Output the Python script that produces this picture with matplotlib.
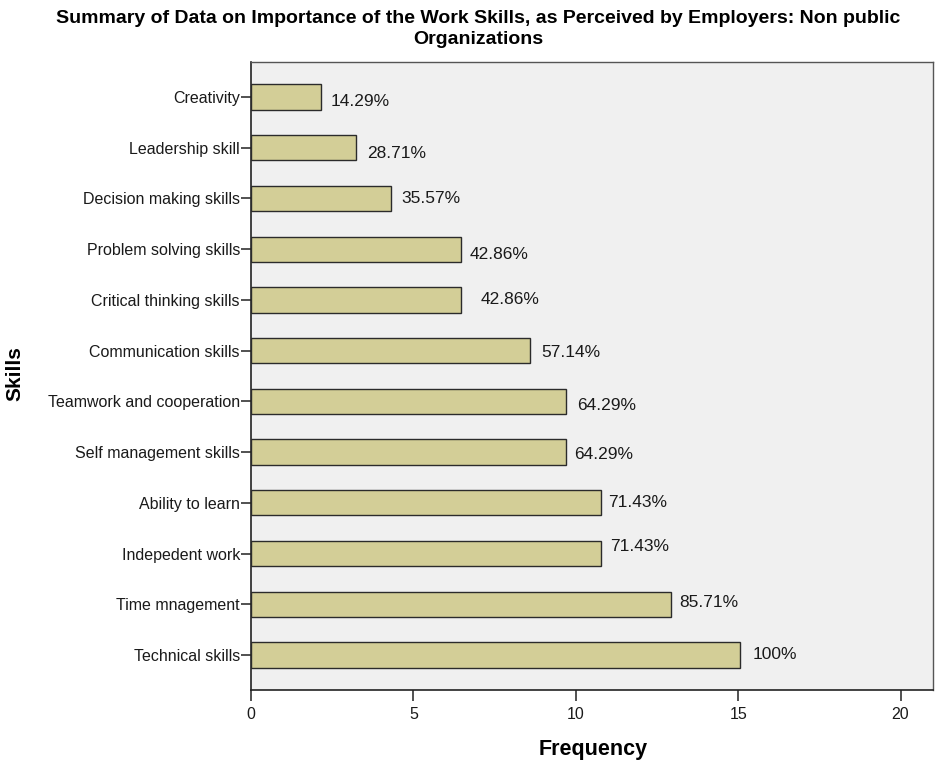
import matplotlib
matplotlib.use("Agg")
import matplotlib.pyplot as plt

skills = ["Creativity", "Leadership skill", "Decision making skills", "Problem solving skills",
          "Critical thinking skills", "Communication skills", "Teamwork and cooperation",
          "Self management skills", "Ability to learn", "Indepedent work", "Time mnagement",
          "Technical skills"]
frequency = [2.15, 3.23, 4.32, 6.46, 6.46, 8.6, 9.69, 9.69, 10.77, 10.77, 12.92, 15.05]
pct_labels = ["14.29%", "28.71%", "35.57%", "42.86%", "42.86%", "57.14%", "64.29%",
              "64.29%", "71.43%", "71.43%", "85.71%", "100%"]
x_ticks = [0, 5, 10, 15, 20]

# label offsets (points) relative to bar end / bar centre
label_dx = [7, 8, 7, 6, 14, 8, 8, 6, 5, 7, 6, 9]
label_dy = [-3, -4, 0, -4, 0, -1, -3, -2, 0, 5, 1, 0]

plt.rcParams["font.family"] = ["Liberation Sans", "DejaVu Sans"]

fig = plt.figure(figsize=(9.36, 7.65), dpi=100)
ax = fig.add_axes([251/936, 1 - 690/765, (933 - 251)/936, (690 - 62)/765])
ax.set_facecolor("#F0F0F0")

y = list(range(len(skills)))
ax.barh(y, frequency, height=0.5, color="#D3CE97", edgecolor="#2b2b2b", linewidth=1.0, zorder=3)
for yi, v, lab, dx, dy in zip(y, frequency, pct_labels, label_dx, label_dy):
    ax.annotate(lab, (v, yi), xytext=(dx, dy), textcoords="offset points",
                ha="left", va="center", fontsize=12.5, color="#1a1a1a", zorder=4)

ax.set_xlim(0, 21)
ax.set_ylim(len(skills) - 1 + 0.69, -0.69)
ax.set_yticks(y)
ax.set_yticklabels(skills, fontsize=11.5, color="#1a1a1a")
ax.set_xticks(x_ticks)
ax.set_xticklabels([str(t) for t in x_ticks], fontsize=11.5, color="#1a1a1a")
ax.tick_params(axis="y", length=7, width=1.2, color="#333333", pad=1)
ax.tick_params(axis="x", length=8, width=1.2, color="#333333", pad=4)

for side in ["top", "right"]:
    ax.spines[side].set_color("#555555")
    ax.spines[side].set_linewidth(1.0)
for side in ["left", "bottom"]:
    ax.spines[side].set_color("#222222")
    ax.spines[side].set_linewidth(1.2)

fig.text(593/936, 1 - 749/765, "Frequency", fontsize=15.5, fontweight="bold",
         ha="center", va="center")
fig.text(15/936, 1 - 374/765, "Skills", rotation=90, fontsize=15, fontweight="bold",
         ha="center", va="center")
fig.text(478/936, 1 - 29/765,
         "Summary of Data on Importance of the Work Skills, as Perceived by Employers: Non public\nOrganizations",
         ha="center", va="center", fontsize=14, fontweight="bold", linespacing=1.25)

fig.savefig("out.png", dpi=100, facecolor="white")
